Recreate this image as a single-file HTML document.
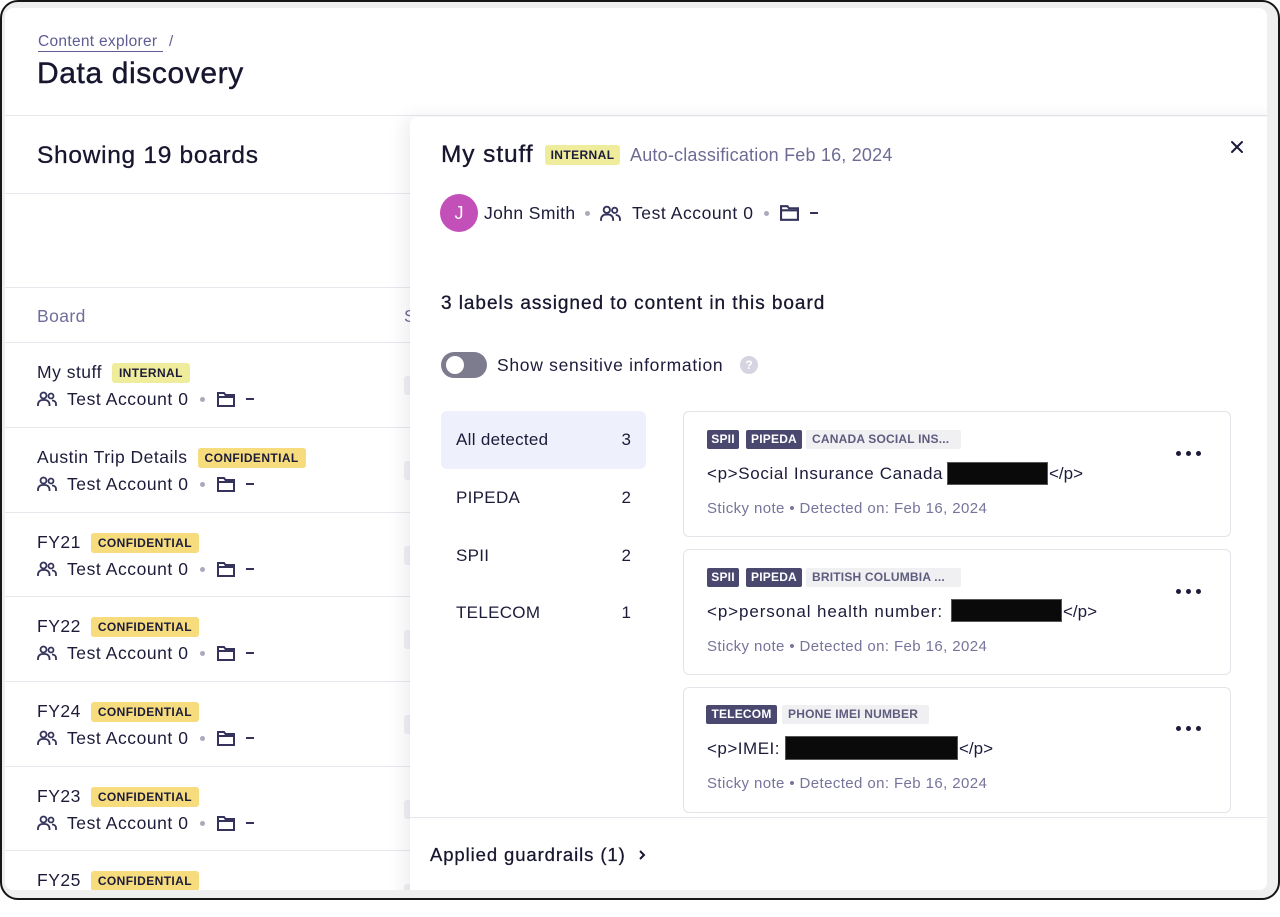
<!DOCTYPE html>
<html><head><meta charset="utf-8">
<style>
*{margin:0;padding:0;box-sizing:border-box}
html,body{width:1280px;height:900px;overflow:hidden;background:#fff;font-family:"Liberation Sans",sans-serif;color:#1c1b3a}
.frame{position:absolute;left:0;top:0;width:1280px;height:900px;border:2.5px solid #161616;border-radius:18px;background:#efeff0}
.inner{position:absolute;left:0;top:0;width:1280px;height:900px;background:transparent;clip-path:inset(8px 13px 10px 5px round 8px)}
.bg{position:absolute;left:0;top:0;width:1280px;height:900px;background:#fff}
.a{position:absolute;white-space:nowrap}
.hr{position:absolute;height:1px;background:#e7e7ed}
.tag{position:absolute;height:20px;line-height:20px;font-size:12px;font-weight:bold;padding:0 7px;border-radius:3px;letter-spacing:0.4px;color:#1c1b3a;white-space:nowrap}
.int{background:#efed9b}
.conf{background:#f6dc7c}
.ctag{position:absolute;height:19px;line-height:19px;font-size:12px;font-weight:bold;padding:0 6px;border-radius:2px;letter-spacing:0.2px;white-space:nowrap;overflow:hidden}
.dk{background:#4b4870;color:#fff}
.lt{background:#f0f0f3;color:#5e5c7e}
.dot{position:absolute;width:5px;height:5px;border-radius:50%;background:#abaabd}
.dash{position:absolute;width:8px;height:2px;background:#35335c}
.panel{position:absolute;left:410px;top:117px;width:870px;height:800px;background:#fff;border-radius:8px 0 0 0;box-shadow:-6px 0 18px rgba(20,20,60,0.07);z-index:2}
.p{z-index:3}
.card{position:absolute;left:683px;width:548px;border:1px solid #e3e3e9;border-radius:6px;background:#fff;z-index:3}
.blk{position:absolute;background:#0a0a0a;border:1px solid #555;z-index:4}
.name{font-size:17.5px;line-height:20px;letter-spacing:0.5px}
.meta{font-size:17.5px;line-height:20px;color:#1c1b3a;letter-spacing:0.55px}
.skel{position:absolute;left:404px;width:20px;height:19px;background:#f0f0f3;border-radius:3px}
.nav{font-size:17px;line-height:20px;z-index:3;letter-spacing:0.3px}
.cnt{font-size:17px;line-height:20px;z-index:3;width:40px;text-align:right}
.ctext{font-size:17px;line-height:22px;z-index:4;color:#1c1b3a}
.cmeta{font-size:15px;line-height:18px;z-index:4;color:#76749a;letter-spacing:0.4px}
.dots{position:absolute;z-index:4}
.dots i{position:absolute;width:5px;height:5px;border-radius:50%;background:#1c1b3a;top:0}
</style></head><body>
<div class="frame"></div>
<div class="inner">
<div class="bg"></div>

<!-- header -->
<div class="a" style="left:38px;top:33px;font-size:15.5px;line-height:17px;color:#5e5c93;border-bottom:1.5px solid #5e5c93;padding-right:6px;padding-bottom:1px;letter-spacing:0.3px">Content explorer</div>
<div class="a" style="left:169px;top:33px;font-size:15px;line-height:17px;color:#5e5c93">/</div>
<div class="a" style="left:37px;top:56px;font-size:30px;line-height:36px;letter-spacing:0.6px;color:#17162f;-webkit-text-stroke:0.4px #17162f">Data discovery</div>
<div class="hr" style="left:0;top:115px;width:1280px"></div>

<!-- left list -->
<div class="a" style="left:37px;top:141px;font-size:24.5px;line-height:30px;letter-spacing:0.7px;color:#17162f;-webkit-text-stroke:0.3px #17162f">Showing 19 boards</div>
<div class="hr" style="left:0;top:193px;width:420px"></div>
<div class="hr" style="left:0;top:287px;width:420px"></div>
<div class="a" style="left:37px;top:306px;font-size:17.5px;line-height:20px;color:#6f6d9a;letter-spacing:0.4px">Board</div>
<div class="a" style="left:404px;top:306px;font-size:17.5px;line-height:20px;color:#6f6d9a">Status</div>
<div class="hr" style="left:0;top:342px;width:420px"></div>

<!-- rows -->
<div class="a name" style="left:37px;top:362px">My stuff<span class="tag int" style="position:relative;display:inline-block;margin-left:10px;top:-1px">INTERNAL</span></div>
<svg class="a" style="left:37px;top:391px" width="20" height="16" viewBox="0 0 20 16" fill="none" stroke="#35335c" stroke-width="1.8"><circle cx="6.5" cy="4.5" r="3"/><path d="M1 15v-1.5A4.5 4.5 0 0 1 5.5 9h2.5A4.5 4.5 0 0 1 12.5 13.5V15"/><circle cx="14" cy="5" r="2.5"/><path d="M15 9.5h.5A3.5 3.5 0 0 1 19 13v2"/></svg>
<div class="a meta" style="left:67px;top:389px">Test Account 0</div>
<div class="dot" style="left:200px;top:397px"></div>
<svg class="a" style="left:217px;top:392px" width="18" height="15" viewBox="0 0 18 15" fill="none" stroke="#35335c" stroke-width="2"><path d="M1 1h6l1.5 2H17v11H1z"/><path d="M1 5h16"/></svg>
<div class="dash" style="left:246px;top:398px"></div>
<div class="skel" style="top:376px"></div>
<div class="hr" style="left:0;top:427px;width:420px"></div>

<div class="a name" style="left:37px;top:447px">Austin Trip Details<span class="tag conf" style="position:relative;display:inline-block;margin-left:10px;top:-1px">CONFIDENTIAL</span></div>
<svg class="a" style="left:37px;top:476px" width="20" height="16" viewBox="0 0 20 16" fill="none" stroke="#35335c" stroke-width="1.8"><circle cx="6.5" cy="4.5" r="3"/><path d="M1 15v-1.5A4.5 4.5 0 0 1 5.5 9h2.5A4.5 4.5 0 0 1 12.5 13.5V15"/><circle cx="14" cy="5" r="2.5"/><path d="M15 9.5h.5A3.5 3.5 0 0 1 19 13v2"/></svg>
<div class="a meta" style="left:67px;top:474px">Test Account 0</div>
<div class="dot" style="left:200px;top:482px"></div>
<svg class="a" style="left:217px;top:477px" width="18" height="15" viewBox="0 0 18 15" fill="none" stroke="#35335c" stroke-width="2"><path d="M1 1h6l1.5 2H17v11H1z"/><path d="M1 5h16"/></svg>
<div class="dash" style="left:246px;top:483px"></div>
<div class="skel" style="top:461px"></div>
<div class="hr" style="left:0;top:512px;width:420px"></div>

<div class="a name" style="left:37px;top:532px">FY21<span class="tag conf" style="position:relative;display:inline-block;margin-left:10px;top:-1px">CONFIDENTIAL</span></div>
<svg class="a" style="left:37px;top:561px" width="20" height="16" viewBox="0 0 20 16" fill="none" stroke="#35335c" stroke-width="1.8"><circle cx="6.5" cy="4.5" r="3"/><path d="M1 15v-1.5A4.5 4.5 0 0 1 5.5 9h2.5A4.5 4.5 0 0 1 12.5 13.5V15"/><circle cx="14" cy="5" r="2.5"/><path d="M15 9.5h.5A3.5 3.5 0 0 1 19 13v2"/></svg>
<div class="a meta" style="left:67px;top:559px">Test Account 0</div>
<div class="dot" style="left:200px;top:567px"></div>
<svg class="a" style="left:217px;top:562px" width="18" height="15" viewBox="0 0 18 15" fill="none" stroke="#35335c" stroke-width="2"><path d="M1 1h6l1.5 2H17v11H1z"/><path d="M1 5h16"/></svg>
<div class="dash" style="left:246px;top:568px"></div>
<div class="skel" style="top:546px"></div>
<div class="hr" style="left:0;top:596px;width:420px"></div>

<div class="a name" style="left:37px;top:616px">FY22<span class="tag conf" style="position:relative;display:inline-block;margin-left:10px;top:-1px">CONFIDENTIAL</span></div>
<svg class="a" style="left:37px;top:645px" width="20" height="16" viewBox="0 0 20 16" fill="none" stroke="#35335c" stroke-width="1.8"><circle cx="6.5" cy="4.5" r="3"/><path d="M1 15v-1.5A4.5 4.5 0 0 1 5.5 9h2.5A4.5 4.5 0 0 1 12.5 13.5V15"/><circle cx="14" cy="5" r="2.5"/><path d="M15 9.5h.5A3.5 3.5 0 0 1 19 13v2"/></svg>
<div class="a meta" style="left:67px;top:643px">Test Account 0</div>
<div class="dot" style="left:200px;top:651px"></div>
<svg class="a" style="left:217px;top:646px" width="18" height="15" viewBox="0 0 18 15" fill="none" stroke="#35335c" stroke-width="2"><path d="M1 1h6l1.5 2H17v11H1z"/><path d="M1 5h16"/></svg>
<div class="dash" style="left:246px;top:652px"></div>
<div class="skel" style="top:630px"></div>
<div class="hr" style="left:0;top:681px;width:420px"></div>

<div class="a name" style="left:37px;top:701px">FY24<span class="tag conf" style="position:relative;display:inline-block;margin-left:10px;top:-1px">CONFIDENTIAL</span></div>
<svg class="a" style="left:37px;top:730px" width="20" height="16" viewBox="0 0 20 16" fill="none" stroke="#35335c" stroke-width="1.8"><circle cx="6.5" cy="4.5" r="3"/><path d="M1 15v-1.5A4.5 4.5 0 0 1 5.5 9h2.5A4.5 4.5 0 0 1 12.5 13.5V15"/><circle cx="14" cy="5" r="2.5"/><path d="M15 9.5h.5A3.5 3.5 0 0 1 19 13v2"/></svg>
<div class="a meta" style="left:67px;top:728px">Test Account 0</div>
<div class="dot" style="left:200px;top:736px"></div>
<svg class="a" style="left:217px;top:731px" width="18" height="15" viewBox="0 0 18 15" fill="none" stroke="#35335c" stroke-width="2"><path d="M1 1h6l1.5 2H17v11H1z"/><path d="M1 5h16"/></svg>
<div class="dash" style="left:246px;top:737px"></div>
<div class="skel" style="top:715px"></div>
<div class="hr" style="left:0;top:766px;width:420px"></div>

<div class="a name" style="left:37px;top:786px">FY23<span class="tag conf" style="position:relative;display:inline-block;margin-left:10px;top:-1px">CONFIDENTIAL</span></div>
<svg class="a" style="left:37px;top:815px" width="20" height="16" viewBox="0 0 20 16" fill="none" stroke="#35335c" stroke-width="1.8"><circle cx="6.5" cy="4.5" r="3"/><path d="M1 15v-1.5A4.5 4.5 0 0 1 5.5 9h2.5A4.5 4.5 0 0 1 12.5 13.5V15"/><circle cx="14" cy="5" r="2.5"/><path d="M15 9.5h.5A3.5 3.5 0 0 1 19 13v2"/></svg>
<div class="a meta" style="left:67px;top:813px">Test Account 0</div>
<div class="dot" style="left:200px;top:821px"></div>
<svg class="a" style="left:217px;top:816px" width="18" height="15" viewBox="0 0 18 15" fill="none" stroke="#35335c" stroke-width="2"><path d="M1 1h6l1.5 2H17v11H1z"/><path d="M1 5h16"/></svg>
<div class="dash" style="left:246px;top:822px"></div>
<div class="skel" style="top:800px"></div>
<div class="hr" style="left:0;top:850px;width:420px"></div>

<div class="a name" style="left:37px;top:870px">FY25<span class="tag conf" style="position:relative;display:inline-block;margin-left:10px;top:-1px">CONFIDENTIAL</span></div>
<div class="skel" style="top:884px"></div>

<!-- panel -->
<div class="panel"></div>
<div class="a p" style="left:441px;top:140px;font-size:24.5px;line-height:30px;letter-spacing:0.9px;color:#17162f;-webkit-text-stroke:0.35px #17162f">My stuff</div>
<div class="tag int p" style="left:545px;top:145px;width:75px;text-align:center;padding:0">INTERNAL</div>
<div class="a p" style="left:630px;top:144px;font-size:18px;line-height:22px;letter-spacing:0.2px;color:#6d6b94">Auto-classification Feb 16, 2024</div>
<svg class="a p" style="left:1230px;top:140px" width="14" height="14" viewBox="0 0 14 14" stroke="#1c1b3a" stroke-width="2" stroke-linecap="round"><path d="M2 2l10 10M12 2L2 12"/></svg>

<div class="a p" style="left:440px;top:194px;width:38px;height:38px;border-radius:50%;background:#c34fb9;color:#fff;font-size:18px;line-height:38px;text-align:center">J</div>
<div class="a p" style="left:484px;top:203px;font-size:17.5px;line-height:20px;letter-spacing:0.4px">John Smith</div>
<div class="dot p" style="left:585px;top:211px"></div>
<svg class="a p" style="left:600px;top:205px" width="21" height="17" viewBox="0 0 20 16" fill="none" stroke="#35335c" stroke-width="1.8"><circle cx="6.5" cy="4.5" r="3"/><path d="M1 15v-1.5A4.5 4.5 0 0 1 5.5 9h2.5A4.5 4.5 0 0 1 12.5 13.5V15"/><circle cx="14" cy="5" r="2.5"/><path d="M15 9.5h.5A3.5 3.5 0 0 1 19 13v2"/></svg>
<div class="a p" style="left:632px;top:203px;font-size:17.5px;line-height:20px;letter-spacing:0.55px">Test Account 0</div>
<div class="dot p" style="left:764px;top:211px"></div>
<svg class="a p" style="left:780px;top:205px" width="19" height="16" viewBox="0 0 18 15" fill="none" stroke="#35335c" stroke-width="2"><path d="M1 1h6l1.5 2H17v11H1z"/><path d="M1 5h16"/></svg>
<div class="dash p" style="left:810px;top:212px"></div>

<div class="a p" style="left:441px;top:292px;font-size:19px;line-height:24px;letter-spacing:0.95px;color:#17162f;-webkit-text-stroke:0.3px #17162f">3 labels assigned to content in this board</div>

<div class="a p" style="left:441px;top:352px;width:46px;height:26px;border-radius:13px;background:#7d7c8e"><div style="position:absolute;left:5px;top:4px;width:18px;height:18px;border-radius:50%;background:#fff"></div></div>
<div class="a p" style="left:497px;top:355px;font-size:17.5px;line-height:20px;letter-spacing:0.7px">Show sensitive information</div>
<div class="a p" style="left:740px;top:356px;width:18px;height:18px;border-radius:50%;background:#d5d4e0;color:#fff;font-size:12px;font-weight:bold;line-height:18px;text-align:center">?</div>

<!-- nav -->
<div class="a p" style="left:441px;top:411px;width:205px;height:58px;border-radius:6px;background:#eef1fb"></div>
<div class="a nav" style="left:456px;top:430px">All detected</div>
<div class="a cnt" style="left:591px;top:430px">3</div>
<div class="a nav" style="left:456px;top:488px">PIPEDA</div>
<div class="a cnt" style="left:591px;top:488px">2</div>
<div class="a nav" style="left:456px;top:546px">SPII</div>
<div class="a cnt" style="left:591px;top:546px">2</div>
<div class="a nav" style="left:456px;top:603px">TELECOM</div>
<div class="a cnt" style="left:591px;top:603px">1</div>

<!-- card 1 -->
<div class="card" style="top:411px;height:126px"></div>
<div class="ctag dk" style="left:707px;top:430px;z-index:4;width:32px;padding:0;text-align:center">SPII</div>
<div class="ctag dk" style="left:746px;top:430px;z-index:4;width:56px;padding:0;text-align:center">PIPEDA</div>
<div class="ctag lt" style="left:806px;top:430px;z-index:4;width:155px">CANADA SOCIAL INS...</div>
<div class="a ctext" style="left:707px;top:463px;letter-spacing:0.65px">&lt;p&gt;Social Insurance Canada</div>
<div class="blk" style="left:947px;top:462px;width:101px;height:23px"></div>
<div class="a ctext" style="left:1049px;top:463px">&lt;/p&gt;</div>
<div class="a cmeta" style="left:707px;top:500px">Sticky note • Detected on: Feb 16, 2024</div>
<div class="dots" style="left:1176px;top:451px"><i style="left:0"></i><i style="left:10px"></i><i style="left:20px"></i></div>

<!-- card 2 -->
<div class="card" style="top:549px;height:126px"></div>
<div class="ctag dk" style="left:707px;top:568px;z-index:4;width:32px;padding:0;text-align:center">SPII</div>
<div class="ctag dk" style="left:746px;top:568px;z-index:4;width:56px;padding:0;text-align:center">PIPEDA</div>
<div class="ctag lt" style="left:806px;top:568px;z-index:4;width:155px">BRITISH COLUMBIA ...</div>
<div class="a ctext" style="left:707px;top:601px;letter-spacing:0.9px">&lt;p&gt;personal health number:</div>
<div class="blk" style="left:951px;top:599px;width:111px;height:23px"></div>
<div class="a ctext" style="left:1063px;top:601px">&lt;/p&gt;</div>
<div class="a cmeta" style="left:707px;top:638px">Sticky note • Detected on: Feb 16, 2024</div>
<div class="dots" style="left:1176px;top:589px"><i style="left:0"></i><i style="left:10px"></i><i style="left:20px"></i></div>

<!-- card 3 -->
<div class="card" style="top:687px;height:126px"></div>
<div class="ctag dk" style="left:706px;top:705px;z-index:4;width:71px;padding:0;text-align:center">TELECOM</div>
<div class="ctag lt" style="left:782px;top:705px;z-index:4;width:147px">PHONE IMEI NUMBER</div>
<div class="a ctext" style="left:707px;top:738px;letter-spacing:0.5px">&lt;p&gt;IMEI:</div>
<div class="blk" style="left:785px;top:736px;width:173px;height:24px"></div>
<div class="a ctext" style="left:959px;top:738px">&lt;/p&gt;</div>
<div class="a cmeta" style="left:707px;top:775px">Sticky note • Detected on: Feb 16, 2024</div>
<div class="dots" style="left:1176px;top:726px"><i style="left:0"></i><i style="left:10px"></i><i style="left:20px"></i></div>

<!-- bottom -->
<div class="a p" style="left:410px;top:817px;width:870px;height:80px;background:#fff;border-top:1px solid #e6e6ec;z-index:5"></div>
<div class="a" style="left:430px;top:844px;font-size:18.5px;line-height:22px;letter-spacing:0.9px;color:#17162f;z-index:6;-webkit-text-stroke:0.25px #17162f">Applied guardrails (1)</div>
<svg class="a" style="left:638px;top:849px;z-index:6" width="8" height="12" viewBox="0 0 8 12" fill="none" stroke="#17162f" stroke-width="2"><path d="M2 2l4 4-4 4"/></svg>
</div>
</body></html>
